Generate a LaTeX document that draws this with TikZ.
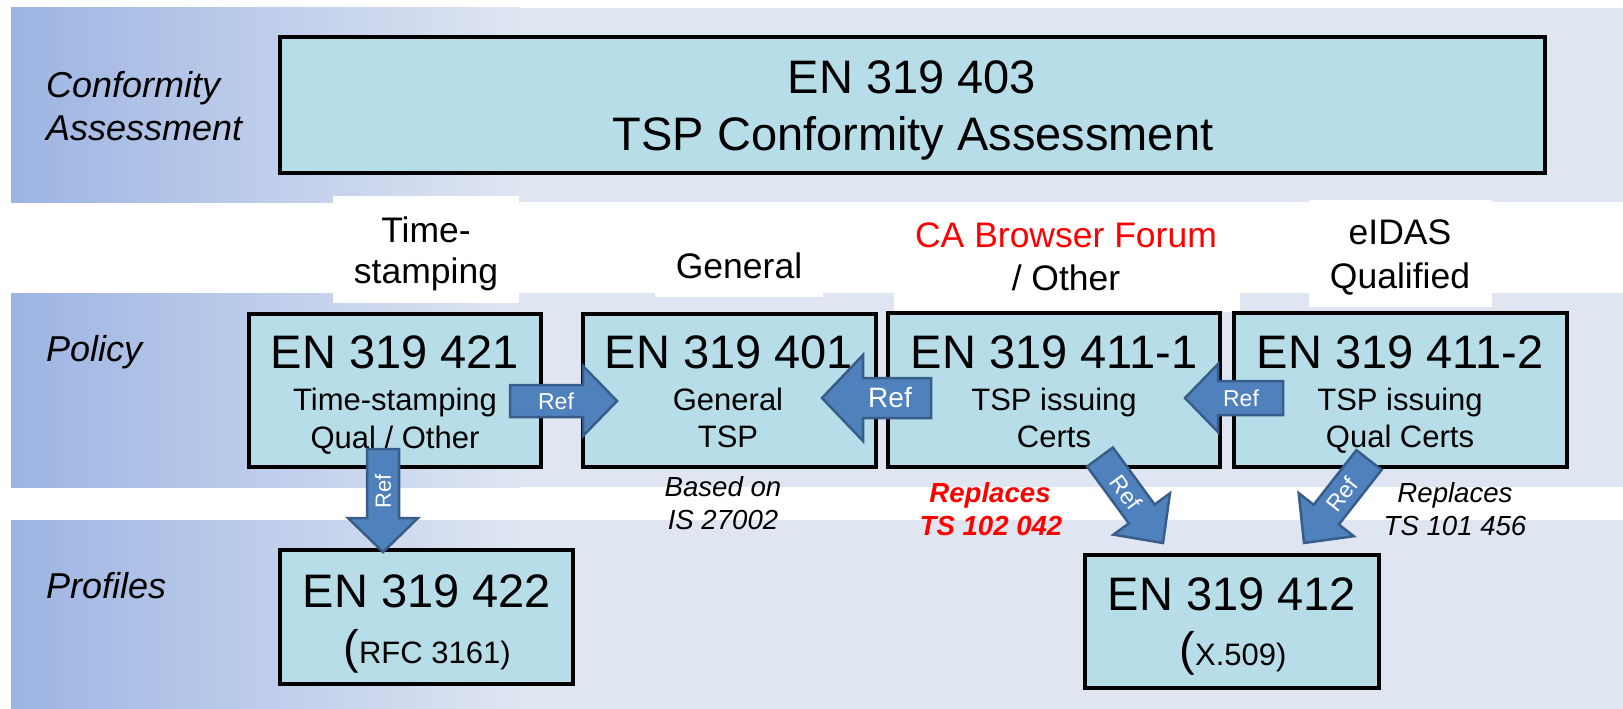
\documentclass[tikz,border=0pt]{standalone}
\usepackage{fontspec}
\setmainfont{Liberation Sans}
\usetikzlibrary{calc}
\definecolor{boxfill}{HTML}{B7DDE8}
\definecolor{banddark}{HTML}{9DB4E2}
\definecolor{bandlight}{HTML}{DFE6F2}
\definecolor{arrowfill}{HTML}{4F81BD}
\definecolor{arrowline}{HTML}{385D8A}
\definecolor{redtxt}{HTML}{FF0000}
\newcommand\fbig{\fontsize{47}{50}\selectfont}
\newcommand\fsub{\fontsize{31}{36}\selectfont}
\newcommand\flab{\fontsize{35.5}{40}\selectfont}
\newcommand\fsec{\fontsize{36}{40}\selectfont\itshape}
\newcommand\fsmall{\fontsize{27.6}{32}\selectfont\itshape}
\tikzset{
  stdbox/.style={draw=black, line width=4pt, fill=boxfill, inner sep=0pt},
  labelbg/.style={fill=white, draw=none, inner sep=0pt},
  txt/.style={anchor=base, inner sep=0pt},
  sectxt/.style={anchor=base west, inner sep=0pt, font=\fsec},
  refarrowshape/.style={fill=arrowfill, draw=arrowline, line width=2.5pt, line join=miter},
  reftext/.style={text=white, inner sep=0pt},
}
% #1 start, #2 tip, #3 shaft half width, #4 head half width, #5 head length,
% #6 text rotation, #7 text distance from start, #8 name of the text node, #9 font size
\newcommand\refarrow[9]{%
  \path let \p1=(#1), \p2=(#2) in \pgfextra{%
    \pgfmathsetmacro\raangloc{atan2(\y2-\y1,\x2-\x1)}%
    \pgfmathsetmacro\ralenloc{veclen(\x2-\x1,\y2-\y1)}%
    \xdef\raang{\raangloc}\xdef\ralen{\ralenloc}};
  \begin{scope}[shift={(#1)}, rotate=\raang]
    \draw[refarrowshape] (0,#3) -- ({\ralen-#5},#3) -- ({\ralen-#5},#4) -- (\ralen,0)
      -- ({\ralen-#5},-#4) -- ({\ralen-#5},-#3) -- (0,-#3) -- cycle;
    \node[reftext, rotate=#6, font=\fontsize{#9}{#9}\selectfont] (#8) at (#7,0) {Ref};
  \end{scope}}
\begin{document}
\begin{tikzpicture}[x=1pt,y=-1pt]
\useasboundingbox (0,0) rectangle (1623,709);
% background bands
\foreach \ya/\yb in {8/202, 293/487, 520/709} {
  \shade[left color=banddark, right color=bandlight] (11,\ya) rectangle (520,\yb);
  \fill[bandlight] (519.5,\ya) rectangle (1623,\yb);
}
% white label backgrounds
\node[labelbg, minimum width=186pt, minimum height=107pt] (lts) at (426,249.5) {};
\node[labelbg, minimum width=168pt, minimum height=57pt] (lgen) at (739,268.5) {};
\node[labelbg, minimum width=346pt, minimum height=107pt] (lca) at (1067,258.5) {};
\node[labelbg, minimum width=183pt, minimum height=107pt] (leid) at (1400.5,253.5) {};
% label texts
\node[txt, font=\flab] (lts1) at (426,242) {Time-};
\node[txt, font=\flab] (lts2) at (426,283) {stamping};
\node[txt, font=\flab] (lgen1) at (739,278) {General};
\node[txt, font=\flab, text=redtxt] (lca1) at (1066,247) {CA Browser Forum};
\node[txt, font=\flab] (lca2) at (1066,290) {/ Other};
\node[txt, font=\flab] (leid1) at (1400,244) {eIDAS};
\node[txt, font=\flab] (leid2) at (1400,288) {Qualified};
% section labels
\node[sectxt] (sconf1) at (46,97) {Conformity};
\node[sectxt] (sconf2) at (46,140) {Assessment};
\node[sectxt] (spol) at (46,361) {Policy};
\node[sectxt] (sprof) at (46,598) {Profiles};
% boxes
\node[stdbox, minimum width=1265pt, minimum height=136pt] (btop) at (912.5,105) {};
\node[stdbox, minimum width=292pt, minimum height=153pt] (b421) at (395,390.5) {};
\node[stdbox, minimum width=293pt, minimum height=153pt] (b401) at (729.5,390.5) {};
\node[stdbox, minimum width=332pt, minimum height=154pt] (b4111) at (1054,390) {};
\node[stdbox, minimum width=333pt, minimum height=154pt] (b4112) at (1400.5,390) {};
\node[stdbox, minimum width=293pt, minimum height=134pt] (b422) at (426.5,617) {};
\node[stdbox, minimum width=294pt, minimum height=133pt] (b412) at (1232,621.5) {};
% box texts
\node[txt, font=\fbig] (btop1) at (912,93) {EN 319 403};
\node[txt, font=\fbig] (btop2) at (913,150) {TSP Conformity Assessment};
\node[txt, font=\fbig] (b421a) at (395,368) {EN 319 421};
\node[txt, font=\fsub] (b421b) at (395,410) {Time-stamping};
\node[txt, font=\fsub] (b421c) at (395,448) {Qual / Other};
\node[txt, font=\fbig] (b401a) at (729,368) {EN 319 401};
\node[txt, font=\fsub] (b401b) at (728,410) {General};
\node[txt, font=\fsub] (b401c) at (728,447) {TSP};
\node[txt, font=\fbig] (b4111a) at (1054,368) {EN 319 411-1};
\node[txt, font=\fsub] (b4111b) at (1054,410) {TSP issuing};
\node[txt, font=\fsub] (b4111c) at (1054,447) {Certs};
\node[txt, font=\fbig] (b4112a) at (1400,368) {EN 319 411-2};
\node[txt, font=\fsub] (b4112b) at (1400,410) {TSP issuing};
\node[txt, font=\fsub] (b4112c) at (1400,447) {Qual Certs};
\node[txt, font=\fbig] (b422a) at (427,607) {EN 319 422};
\node[txt] (b422b) at (427,663) {{\fbig(}{\fsub RFC 3161)}};
\node[txt, font=\fbig] (b412a) at (1232,610) {EN 319 412};
\node[txt] (b412b) at (1233,665) {{\fbig(}{\fsub X.509)}};
% notes
\node[txt, font=\fsmall] (n1a) at (723,496) {Based on};
\node[txt, font=\fsmall] (n1b) at (723,529) {IS 27002};
\node[txt, font=\fsmall\bfseries, text=redtxt] (n2a) at (990,502) {Replaces};
\node[txt, font=\fsmall\bfseries, text=redtxt] (n2b) at (991,535) {TS 102 042};
\node[txt, font=\fsmall] (n3a) at (1455,502) {Replaces};
\node[txt, font=\fsmall] (n3b) at (1455,535) {TS 101 456};
% arrow end points
\coordinate (a1s) at (510,401);  \coordinate (a1e) at (617,401);
\coordinate (a2s) at (931,398);  \coordinate (a2e) at (822,398);
\coordinate (a3s) at (1283,398); \coordinate (a3e) at (1185,398);
\coordinate (a4s) at (383,449);  \coordinate (a4e) at (383,552);
\coordinate (a5s) at (1100,457); \coordinate (a5e) at (1163,543);
\coordinate (a6s) at (1369,460); \coordinate (a6e) at (1304,543);
% Ref arrows
\refarrow{a1s}{a1e}{16}{35}{34}{0}{46}{r1}{23}
\refarrow{a2s}{a2e}{20}{43}{41}{0}{41}{r2}{28}
\refarrow{a3s}{a3e}{17}{34}{33}{0}{42}{r3}{23}
\refarrow{a4s}{a4e}{16}{35}{34}{90}{42}{r4}{22}
\refarrow{a5s}{a5e}{16}{35}{36}{-54}{44}{r5}{23}
\refarrow{a6s}{a6e}{16}{35}{36}{52}{44}{r6}{23}
\end{tikzpicture}
\end{document}
